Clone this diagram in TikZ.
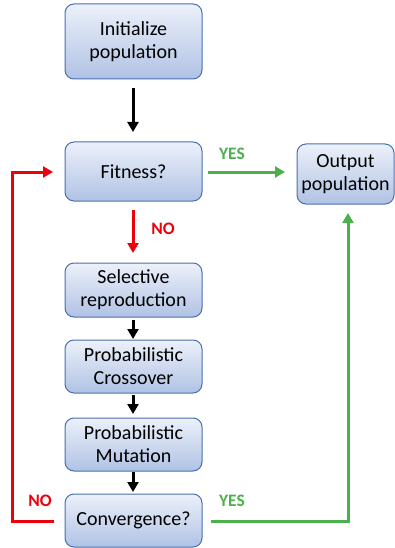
\documentclass[tikz,border=0pt]{standalone}
\usepackage{fontspec}
\setmainfont{Carlito}
\usetikzlibrary{arrows.meta,shadings}
\definecolor{boxtop}{RGB}{236,241,250}
\definecolor{boxbot}{RGB}{176,194,228}
\definecolor{boxline}{RGB}{74,110,176}
\definecolor{myred}{RGB}{236,0,12}
\definecolor{mygreen}{RGB}{76,176,76}
\tikzset{
  box/.style={draw=boxline, line width=1pt, rounded corners=9pt, top color=boxtop, bottom color=boxbot,
    minimum width=137pt, align=center, font=\fontsize{20}{23}\selectfont, inner sep=0pt},
  outbox/.style={box, minimum width=97pt},
  arr/.style={line width=3pt, -{Triangle[length=10pt,width=11pt]}},
  lbl/.style={font=\fontsize{17.5}{20}\selectfont\bfseries}
}
\begin{document}
\begin{tikzpicture}[x=1pt,y=-1pt]
\useasboundingbox (0,0) rectangle (394,548);
\node[box, minimum height=75pt] (init) at (133.5,41.5) {Initialize\\population};
\node[box, minimum height=59pt] (fit) at (133.5,171.5) {Fitness?};
\node[outbox, minimum height=60pt] (out) at (345.5,174) {Output\\population};
\node[box, minimum height=54pt] (sel) at (133.5,290) {Selective\\reproduction};
\node[box, minimum height=53pt] (cro) at (133.5,366.5) {Probabilistic\\Crossover};
\node[box, minimum height=53pt] (mut) at (133.5,444.5) {Probabilistic\\Mutation};
\node[box, minimum height=53pt] (con) at (133.5,520.5) {Convergence?};
\coordinate (a1) at (133,88);
\coordinate (a2) at (133,132);
\draw[arr] (a1) -- (a2);
\coordinate (r1) at (133,210);
\coordinate (r2) at (133,253);
\draw[arr, myred] (r1) -- (r2);
\node[lbl, text=myred] (no1) at (163,229) {NO};
\coordinate (g1) at (208,172);
\coordinate (g2) at (285,172);
\draw[arr, mygreen] (g1) -- (g2);
\node[lbl, text=mygreen] (yes1) at (232,154) {YES};
\coordinate (b1) at (133,320);
\coordinate (b2) at (133,339);
\draw[arr] (b1) -- (b2);
\coordinate (b3) at (133,395);
\coordinate (b4) at (133,414);
\draw[arr] (b3) -- (b4);
\coordinate (b5) at (133,472);
\coordinate (b6) at (133,492);
\draw[arr] (b5) -- (b6);
\coordinate (l1) at (54,521);
\coordinate (l2) at (12,172);
\coordinate (l3) at (53,172);
\draw[line width=3pt, myred, -{Triangle[length=10pt,width=11pt]}] (l1) -| (l2) -- (l3);
\node[lbl, text=myred] (no2) at (40,501) {NO};
\coordinate (m1) at (211,521);
\coordinate (m2) at (348,213);
\draw[line width=3pt, mygreen, -{Triangle[length=10pt,width=11pt]}] (m1) -| (m2);
\node[lbl, text=mygreen] (yes2) at (232,501) {YES};
\end{tikzpicture}
\end{document}
